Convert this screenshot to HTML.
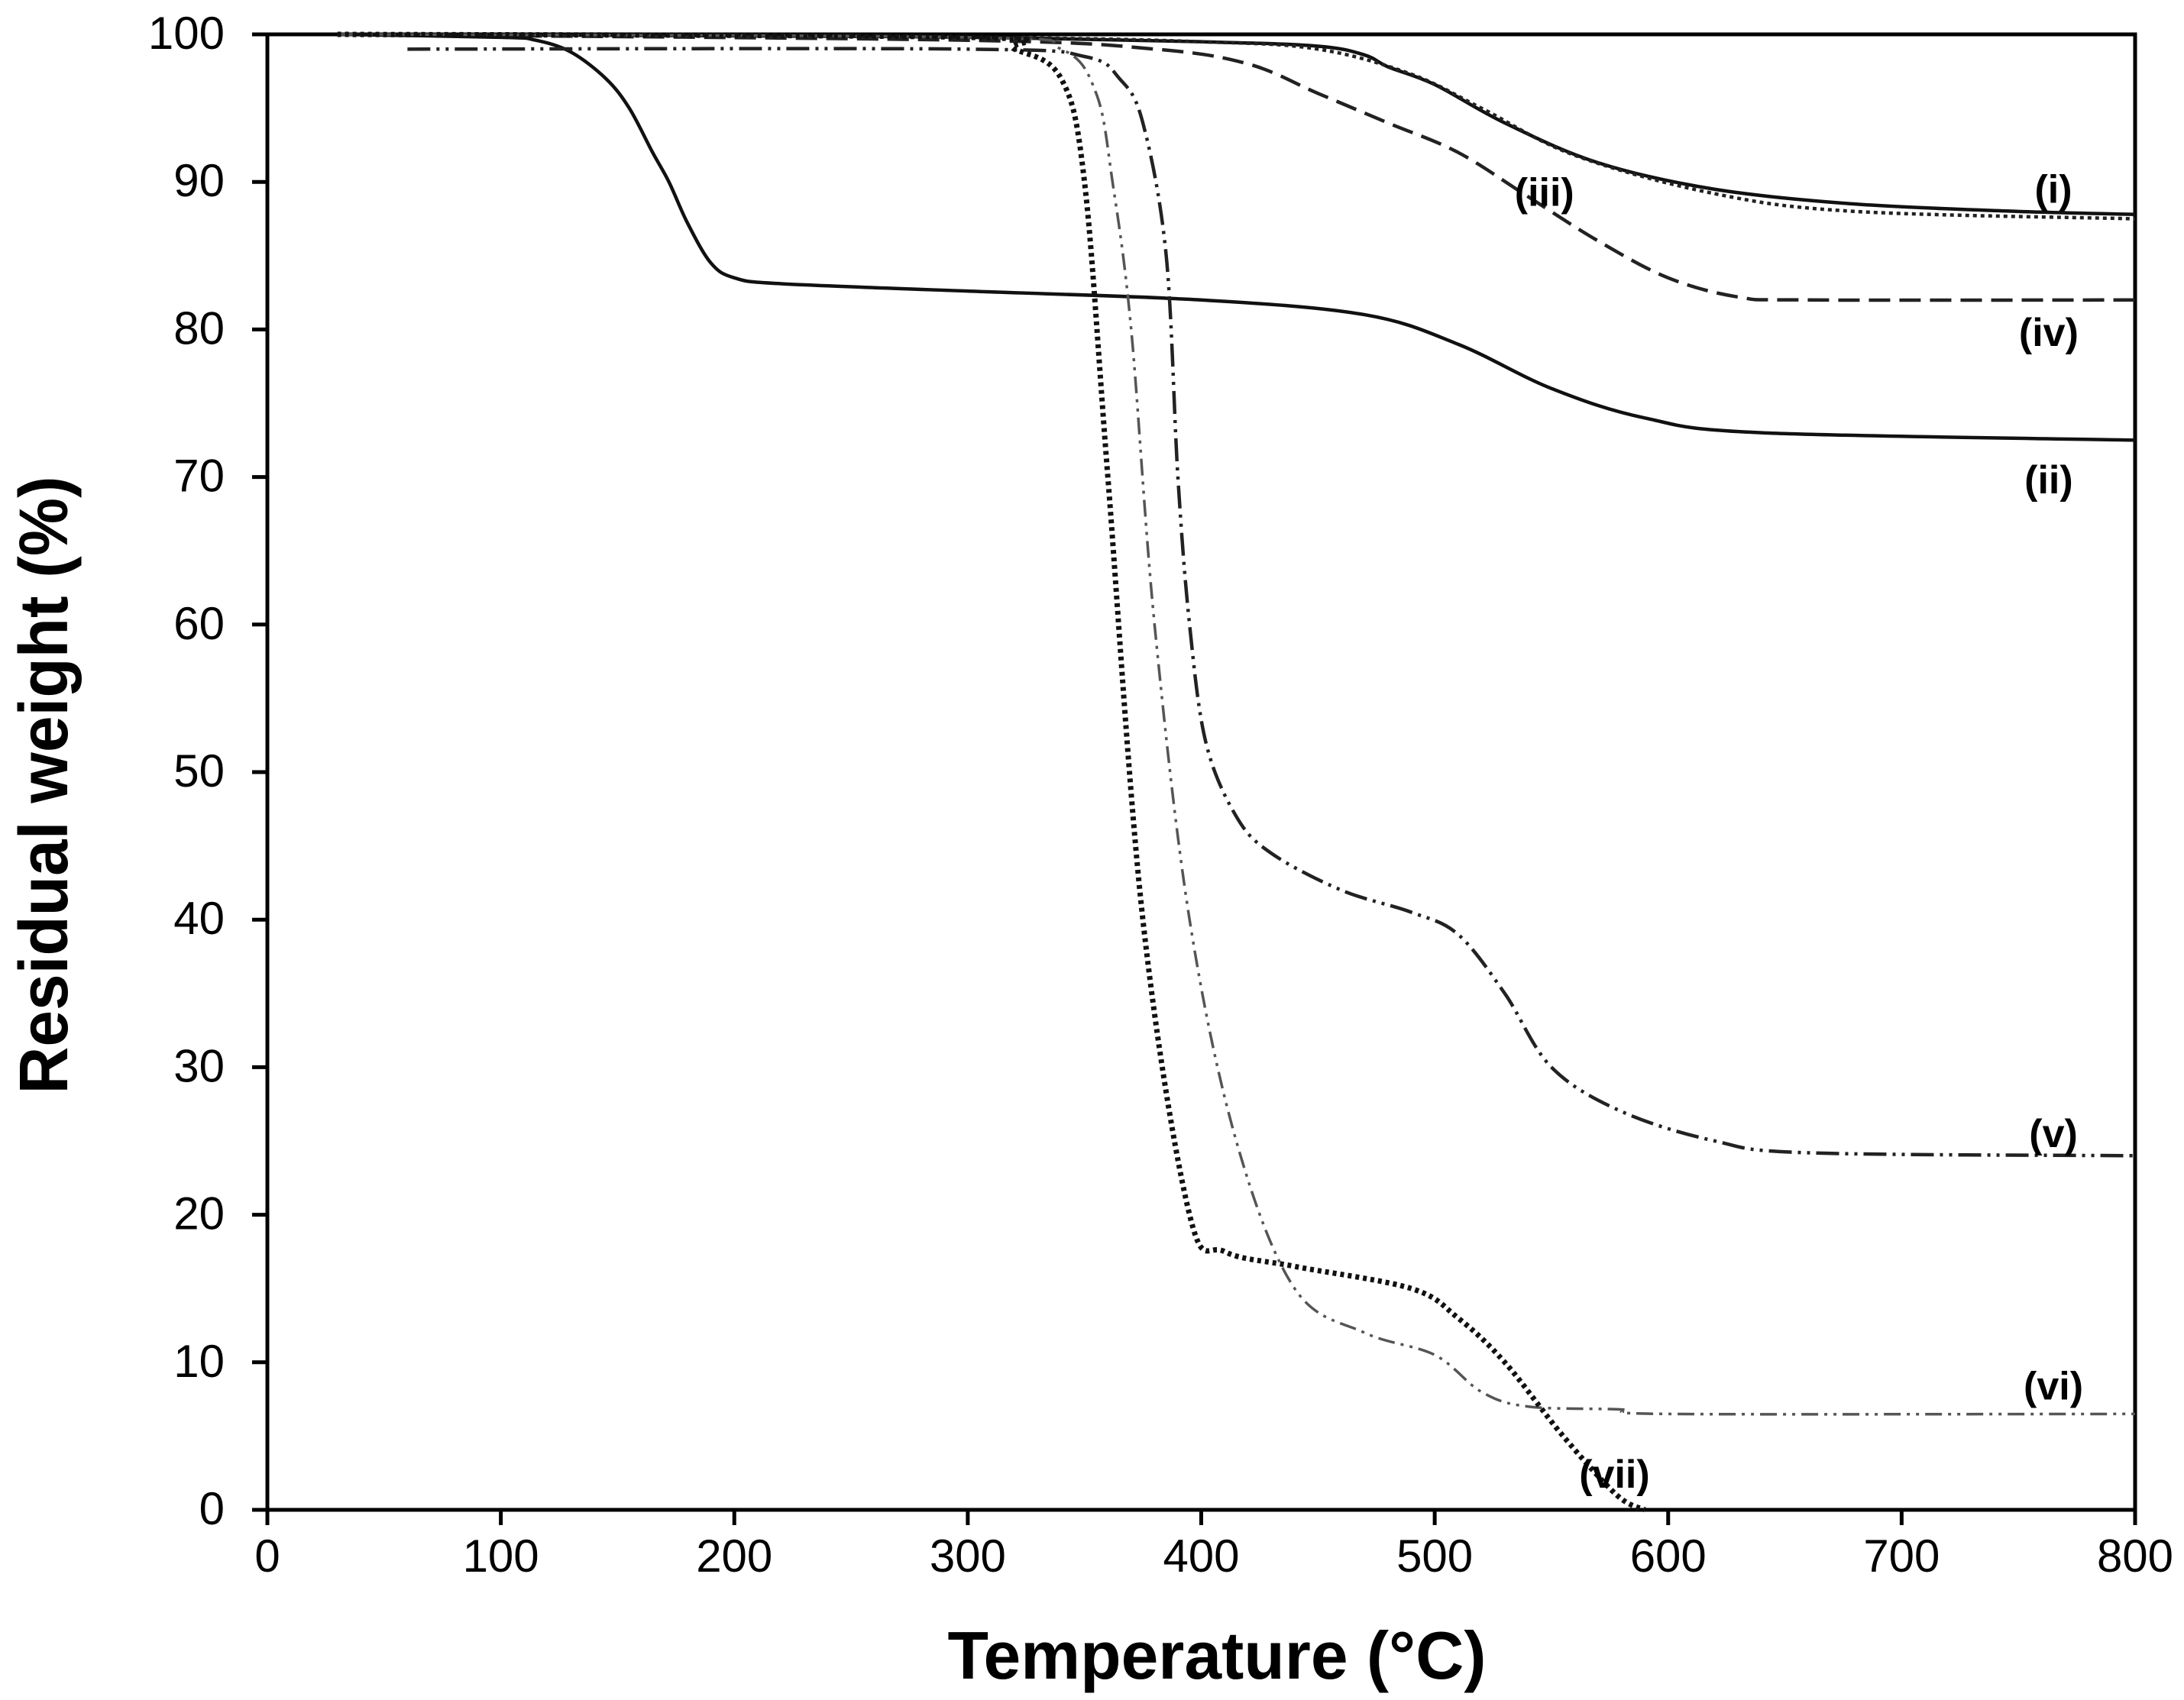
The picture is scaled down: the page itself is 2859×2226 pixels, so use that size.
<!DOCTYPE html>
<html><head><meta charset="utf-8"><style>
html,body{margin:0;padding:0;background:#fff}
svg{display:block}
text{font-family:"Liberation Sans",Arial,sans-serif;fill:#000}
</style></head><body>
<svg id="chart" width="2859" height="2226" viewBox="0 0 2859 2226">
<g id="axes"></g>
<g id="series"></g>
<g id="labels"></g>
<text x="88" y="1028" font-size="90" font-weight="bold" text-anchor="middle" textLength="809" lengthAdjust="spacingAndGlyphs" transform="rotate(-90 88 1028)">Residual weight (%)</text>
<text x="1593" y="2198" font-size="88" font-weight="bold" text-anchor="middle" textLength="705" lengthAdjust="spacingAndGlyphs">Temperature (°C)</text>
</svg>
<script>
const xTicks=[0,100,200,300,400,500,600,700,800];
const yTicks=[0,10,20,30,40,50,60,70,80,90,100];
const s1x=[30,200,300,400,450,470,480,500,530,570,620,680,750,800];
const s1y=[100,99.9,99.8,99.5,99.2,98.6,97.8,96.6,94,91.3,89.5,88.5,88,87.8];
const s3x=[30,300,400,450,490,520,560,620,680,800];
const s3y=[100,99.8,99.5,99,97.3,95,91.8,89.2,88,87.5];
const s4x=[30,300,380,420,450,480,510,540,570,600,630,660,800];
const s4y=[100,99.6,99,98,96,94,92,89,86,83.5,82.2,82,82];
const s2x=[30,100,115,130,145,155,165,172,180,190,200,220,300,400,470,510,550,590,640,800];
const s2y=[100,99.8,99.6,98.8,97,95,92,90,87.2,84.5,83.5,83.1,82.6,82,81,79,76,74,73,72.5];
const s5x=[60,300,350,365,375,385,390,395,402,415,430,460,490,510,530,550,580,620,660,800];
const s5y=[99,99,98.5,97,94,85,70,60,52,47,44.5,42,40.5,39,35,30,27,25,24.2,24];
const s6x=[30,300,340,355,362,370,380,395,415,440,470,500,520,540,580,600,800];
const s6y=[100,99.8,99,96,90,80,60,40,25,15,12,10.5,8,7,6.8,6.5,6.5];
const s7x=[30,300,320,340,350,360,375,395,410,440,490,510,530,555,578,590];
const s7y=[100,99.8,99,97,90,70,40,20,17.5,16.5,15,13,10,5,1,0];
const L=350,R=2795,T=45,B=1977;
const sx=v=>L+(v-0)/800*(R-L), sy=v=>B-(v/100)*(B-T);
const NS='http://www.w3.org/2000/svg';
function mk(tag,attrs,parent){const e=document.createElementNS(NS,tag);for(const k in attrs)e.setAttribute(k,attrs[k]);parent.appendChild(e);return e;}
const ax=document.getElementById('axes');
let fr=mk('rect',{x:L,y:T,width:R-L,height:B-T,fill:'none',stroke:'#000','stroke-width':5},ax);


xTicks.forEach(v=>{
 let t=mk('line',{x1:sx(v),x2:sx(v),y1:B,y2:B+20,stroke:'#000','stroke-width':5},ax);
 
 
 let l=mk('text',{x:sx(v),y:2058,'font-size':60,'text-anchor':'middle'},ax);l.textContent=v;
 
 
});
yTicks.forEach(v=>{
 let t=mk('line',{x1:L-20,x2:L,y1:sy(v),y2:sy(v),stroke:'#000','stroke-width':5},ax);
 
 
 let l=mk('text',{x:294,y:sy(v)+19,'font-size':60,'text-anchor':'end'},ax);l.textContent=v;
 
 
});
function path(xs,ys){
 const p=xs.map((x,i)=>[sx(x),sy(ys[i])]);
 let d='M'+p[0][0]+','+p[0][1];
 for(let i=0;i<p.length-1;i++){
  const p0=p[Math.max(0,i-1)],p1=p[i],p2=p[i+1],p3=p[Math.min(p.length-1,i+2)];
  const c1=[p1[0]+(p2[0]-p0[0])/6,p1[1]+(p2[1]-p0[1])/6];
  const c2=[p2[0]-(p3[0]-p1[0])/6,p2[1]-(p3[1]-p1[1])/6];
  d+=' C'+c1+' '+c2+' '+p2;
 }
 return d;
}
const sg=document.getElementById('series');
function series(xs,ys,name,w,dash,col){
 const e=mk('path',{d:path(xs,ys),fill:'none',stroke:col,'stroke-width':w,'stroke-dasharray':dash,'stroke-linejoin':'round'},sg);
 
 
}
series(s1x,s1y,'series-i',4.5,'none','#111');
series(s3x,s3y,'series-iii',4.5,'5 5','#222');
series(s4x,s4y,'series-iv',4.5,'28 12','#222');
series(s2x,s2y,'series-ii',4.5,'none','#111');
series(s5x,s5y,'series-v',4.5,'30 8 4 8 4 8','#222');
series(s6x,s6y,'series-vi',3.5,'22 8 4 8 4 8','#555');
series(s7x,s7y,'series-vii',7,'5 5','#111');
const labs=[['(i)',765,89.3],['(iii)',547,89.1],['(iv)',763,79.6],['(ii)',763,69.6],['(v)',765,25.3],['(vi)',765,8.2],['(vii)',577,2.2]];
const lg=document.getElementById('labels');
labs.forEach(a=>{
 const t=mk('text',{x:sx(a[1]),y:sy(a[2]),'font-size':52,'font-weight':'bold','text-anchor':'middle','dominant-baseline':'middle'},lg);
 t.textContent=a[0];
 
 
});
</script>
</body></html>
